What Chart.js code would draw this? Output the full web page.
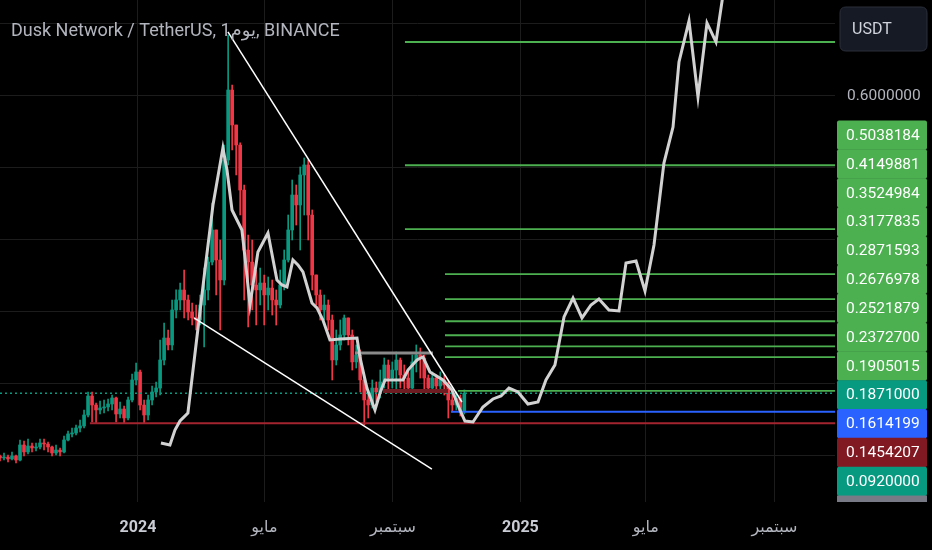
<!DOCTYPE html>
<html><head><meta charset="utf-8">
<script src="https://cdn.jsdelivr.net/npm/chart.js@4.4.0/dist/chart.umd.min.js"></script>
<style>html,body{margin:0;padding:0;background:#000;overflow:hidden}canvas{display:block}</style>
</head><body>
<canvas id="c" width="932" height="550"></canvas>
<script>
// ---------- DATA ----------
const titleText = 'Dusk Network / TetherUS, 1يوم, BINANCE';
// x axis: days since 2024-01-01
const tickDays   = [0, 121, 244, 366, 486, 609];
const tickLabels = ['2024', 'مايو', 'سبتمبر', '2025', 'مايو', 'سبتمبر'];
const tickIsYear = [true, false, false, true, false, false];
const yGridValues = [0.1, 0.2, 0.3, 0.4, 0.5, 0.6, 0.7];
const yLabelValues = [0.6];

// candles (about every 4 days, Aug 2023 -> Nov 2024)
const candleStartDay = -132, candleStepDays = 3.83;
const firstOpen = 0.1;
const closes = [0.0972,0.0986,0.0958,0.1,0.0944,0.1153,0.1056,0.1139,0.1111,0.1125,
0.1181,0.1167,0.1125,0.1042,0.1083,0.1056,0.1222,0.1306,0.1319,0.1389,
0.1417,0.1569,0.1833,0.1708,0.1639,0.1667,0.1681,0.1722,0.1806,0.1583,
0.1653,0.1528,0.1778,0.2056,0.2167,0.1708,0.1569,0.1778,0.1889,0.1944,
0.2333,0.2639,0.2542,0.3028,0.3167,0.3306,0.3167,0.3,0.2917,0.2889,
0.3097,0.3306,0.3694,0.4139,0.3722,0.3444,0.5111,0.6083,0.5597,0.5319,
0.4694,0.3861,0.3694,0.3375,0.3306,0.3403,0.3236,0.3333,0.3167,0.3097,
0.3375,0.3722,0.4139,0.4625,0.4486,0.4903,0.5042,0.4347,0.3514,0.3236,
0.3028,0.3097,0.2889,0.2333,0.2542,0.2681,0.2917,0.2681,0.2306,0.2403,
0.2056,0.1778,0.1708,0.1944,0.1889,0.2028,0.2264,0.2083,0.2194,0.2333,
0.2125,0.2083,0.1944,0.2306,0.2403,0.2361,0.2083,0.1944,0.2083,0.1972,
0.2056,0.1986,0.1778,0.1708,0.1806,0.1611,0.1871];
const highs = [0.1014,0.1042,0.1014,0.1056,0.1014,0.1222,0.1208,0.1236,0.1181,0.1181,
0.1236,0.1236,0.1194,0.1139,0.1153,0.1111,0.1278,0.1347,0.1389,0.1431,
0.15,0.1639,0.1889,0.1889,0.1736,0.1764,0.1778,0.1792,0.1847,0.1819,
0.175,0.1694,0.1819,0.2139,0.2292,0.2194,0.1778,0.1847,0.1972,0.2028,
0.2611,0.2847,0.275,0.3167,0.3306,0.3403,0.3583,0.3236,0.3125,0.3097,
0.3236,0.3611,0.3764,0.4514,0.4139,0.4,0.5319,0.6847,0.6153,0.5597,
0.535,0.4764,0.4069,0.4,0.3583,0.3611,0.3514,0.3486,0.3444,0.3306,
0.3583,0.3861,0.4347,0.4833,0.4764,0.5014,0.5139,0.5111,0.4417,0.3514,
0.3306,0.3236,0.3167,0.2958,0.275,0.2889,0.2958,0.2917,0.275,0.2542,
0.2472,0.2083,0.1917,0.2056,0.2028,0.2194,0.2361,0.2333,0.2306,0.2444,
0.2361,0.2264,0.2194,0.2403,0.2542,0.25,0.2403,0.2125,0.2167,0.2125,
0.2167,0.2125,0.2028,0.1875,0.1889,0.1847,0.1917];
const lows = [0.0931,0.0944,0.0917,0.0944,0.0903,0.0931,0.1,0.1028,0.1056,0.1069,
0.1097,0.1083,0.1056,0.1,0.1014,0.1,0.1042,0.1208,0.1264,0.1292,
0.1333,0.1389,0.1542,0.1472,0.1458,0.1583,0.1597,0.1625,0.1639,0.1472,
0.1528,0.1458,0.15,0.175,0.1986,0.1639,0.1458,0.15,0.1708,0.1819,
0.1847,0.2264,0.2472,0.2472,0.2917,0.3028,0.2917,0.2889,0.2819,0.275,
0.2819,0.2514,0.3167,0.3653,0.3236,0.275,0.3375,0.5042,0.525,0.4903,
0.4347,0.3167,0.2792,0.3028,0.2819,0.3097,0.2819,0.3028,0.2958,0.2819,
0.3056,0.3306,0.3694,0.4,0.4208,0.3861,0.4347,0.4,0.3306,0.3097,
0.2889,0.2889,0.275,0.2056,0.2264,0.2472,0.2611,0.2542,0.2194,0.2222,
0.1889,0.1431,0.1528,0.1667,0.175,0.1806,0.1944,0.1917,0.1944,0.1917,
0.1944,0.1917,0.1875,0.1917,0.2167,0.2083,0.1917,0.1889,0.1889,0.1889,
0.1917,0.1847,0.1528,0.1611,0.1639,0.1556,0.1583];

// projection path (gray)
const pathDays = [22.0,30.6,35.4,40.2,47.8,64.1,71.8,81.3,85.2,90.0,99.5,102.4,107.2,114.8,124.4,133.0,137.8,142.6,148.3,153.1,157.9,166.5,171.3,177.0,183.7,193.3,209.6,212.4,219.1,226.8,231.6,236.4,253.6,258.4,267.0,272.7,279.4,291.9,300.5,308.1,312.9,320.6,330.1,339.7,347.4,355.0,363.6,373.2,382.8,390.4,399.0,407.7,416.3,424.9,433.5,441.1,450.7,460.3,467.0,476.6,485.2,493.8,503.3,512.0,517.7,527.3,535.9,544.5,553.1,560.8];
const pathValues = [0.1181,0.1153,0.1361,0.1486,0.1597,0.3583,0.4486,0.5278,0.4972,0.4417,0.4139,0.3764,0.3097,0.3833,0.4097,0.3444,0.3375,0.3347,0.3722,0.3653,0.3556,0.3125,0.3056,0.2889,0.2611,0.2625,0.2639,0.2375,0.1944,0.1639,0.1875,0.2056,0.2056,0.2194,0.2333,0.2375,0.2167,0.2056,0.1917,0.1639,0.1486,0.1472,0.1681,0.1792,0.1833,0.1944,0.1889,0.1722,0.175,0.2056,0.2264,0.2931,0.3194,0.2917,0.3097,0.3181,0.3028,0.3014,0.3681,0.3708,0.3292,0.3931,0.5069,0.5569,0.6472,0.7042,0.5986,0.7014,0.675,0.75];

// trend lines
const upperTrendDays = [86.1, 310.0], upperTrendValues = [0.6889, 0.175];
const lowerTrendDays = [53.6, 281.3], lowerTrendValues = [0.2917, 0.0819];

// horizontal levels
const levelValues    = [0.675, 0.5038184, 0.4149881, 0.3524984, 0.3177835, 0.2871593, 0.2676978, 0.2521879, 0.23727, 0.1905015];
const levelStartDays = [255.5, 255.5, 255.5, 293.8, 293.8, 293.8, 293.8, 293.8, 293.8, 306.2];
const supportValue = 0.1454207, supportStartDay = -45.9;
const blueValue = 0.1614199, blueStartDay = 299.5;
const lastPrice = 0.1871;
const rangeTopValue = 0.2431, rangeTopDays = [207.7, 282.3];
const rangeBottomValue = 0.1903, rangeBottomDays = [234.4, 296.7];
const xMin = -132, xMax = 667, yMin = 0.0361, yMax = 0.7333;

// price labels on axis
const axisLabels = ['0.5038184','0.4149881','0.3524984','0.3177835','0.2871593','0.2676978','0.2521879','0.2372700','0.1905015','0.1871000','0.1614199','0.1454207','0.0920000'];
const axisLabelColors = ['#4caf50','#4caf50','#4caf50','#4caf50','#4caf50','#4caf50','#4caf50','#4caf50','#4caf50','#089981','#2962ff','#801922','#089981'];

// ---------- BUILD ----------
const UP = '#089981', DOWN = '#f23645';
const opens = [firstOpen].concat(closes.slice(0, -1));
const candleDays = closes.map((_, i) => candleStartDay + i * candleStepDays);
const candleColors = closes.map((c, i) => c >= opens[i] ? UP : DOWN);
const wickData = candleDays.map((d, i) => ({x: d, y: [lows[i], highs[i]]}));
const bodyData = candleDays.map((d, i) => ({x: d, y: [opens[i], closes[i]]}));

function seg(days, values, color, width, extra) {
  return Object.assign({
    type: 'line', data: days.map((d, i) => ({x: d, y: values[i]})),
    borderColor: color, borderWidth: width, pointRadius: 0, tension: 0, fill: false, order: 1
  }, extra || {});
}

const datasets = [];
datasets.push({type: 'bar', data: wickData, backgroundColor: candleColors, barThickness: 1, grouped: false, order: 20, borderWidth: 0});
datasets.push({type: 'bar', data: bodyData, backgroundColor: candleColors, barThickness: 3, grouped: false, order: 19, borderWidth: 0, minBarLength: 1});
datasets.push(seg([xMin, xMax], [lastPrice, lastPrice], UP, 1.5, {borderDash: [2, 3], order: 5}));
datasets.push(seg([supportStartDay, xMax], [supportValue, supportValue], '#a3232e', 2, {order: 6}));
datasets.push(seg([blueStartDay, xMax], [blueValue, blueValue], '#2962ff', 2, {order: 6}));
levelValues.forEach((v, i) => datasets.push(seg([levelStartDays[i], xMax], [v, v], '#4caf50', 1.8, {order: 6})));
datasets.push(seg(rangeTopDays, [rangeTopValue, rangeTopValue], '#8a8a8a', 3, {order: 4}));
datasets.push(seg(rangeBottomDays, [rangeBottomValue, rangeBottomValue], '#6e1b22', 4, {order: 4}));
datasets.push(seg(pathDays, pathValues, '#d2d2d2', 3, {order: 2}));
datasets.push(seg(upperTrendDays, upperTrendValues, '#ffffff', 1.5, {order: 1}));
datasets.push(seg(lowerTrendDays, lowerTrendValues, '#ffffff', 1.5, {order: 1}));

const FONT = 'Roboto, "DejaVu Sans", sans-serif';

function roundRect(ctx, x, y, w, h, r) {
  ctx.beginPath();
  ctx.moveTo(x + r, y); ctx.lineTo(x + w - r, y); ctx.quadraticCurveTo(x + w, y, x + w, y + r);
  ctx.lineTo(x + w, y + h - r); ctx.quadraticCurveTo(x + w, y + h, x + w - r, y + h);
  ctx.lineTo(x + r, y + h); ctx.quadraticCurveTo(x, y + h, x, y + h - r);
  ctx.lineTo(x, y + r); ctx.quadraticCurveTo(x, y, x + r, y); ctx.closePath();
}

const overlay = {
  id: 'overlay',
  beforeDraw(chart) {
    const ctx = chart.ctx;
    ctx.save(); ctx.fillStyle = '#000'; ctx.fillRect(0, 0, chart.width, chart.height); ctx.restore();
  },
  afterDraw(chart) {
    const ctx = chart.ctx;
    const area = chart.chartArea;
    const ys = chart.scales.y;
    ctx.save();
    ctx.textBaseline = 'middle';
    ctx.textAlign = 'left';
    // y tick label(s) visible between the markers
    ctx.font = '15.5px ' + FONT;
    ctx.fillStyle = '#b2b5be';
    yLabelValues.forEach(v => ctx.fillText(v.toFixed(7), area.right + 12, ys.getPixelForValue(v)));
    // title
    ctx.font = '18px ' + FONT;
    ctx.fillStyle = '#b2b5be';
    ctx.fillText(titleText, 11, 31);
    // USDT box
    const ax = area.right;
    roundRect(ctx, ax + 5, 7, 87, 44, 6);
    ctx.fillStyle = '#161a25'; ctx.fill();
    ctx.strokeStyle = '#2a2e39'; ctx.lineWidth = 1; ctx.stroke();
    ctx.fillStyle = '#d1d4dc'; ctx.font = '16px ' + FONT;
    ctx.fillText('USDT', ax + 17, 30);
    // stacked price labels
    const top0 = 120.5, h = 28.85, bx = ax + 2, bw = 90;
    axisLabels.forEach((t, i) => {
      const y = top0 + i * h;
      ctx.fillStyle = axisLabelColors[i];
      roundRect(ctx, bx, y, bw, h + 0.5, 2);
      ctx.fill();
      ctx.fillStyle = '#ffffff';
      ctx.font = '15.5px ' + FONT;
      ctx.fillText(t, bx + 9, y + h / 2 + 1);
    });
    const yEnd = top0 + axisLabels.length * h;
    ctx.fillStyle = '#787b86';
    ctx.fillRect(bx, yEnd, bw, area.bottom - yEnd);
    ctx.restore();
  }
};

new Chart(document.getElementById('c'), {
  type: 'bar',
  data: {datasets},
  plugins: [overlay],
  options: {
    responsive: false, animation: false, devicePixelRatio: 1,
    layout: {padding: 0},
    plugins: {legend: {display: false}, tooltip: {enabled: false}, title: {display: false}},
    scales: {
      x: {
        type: 'linear', min: xMin, max: xMax, offset: false,
        afterBuildTicks: s => { s.ticks = tickDays.map(v => ({value: v})); },
        afterFit: s => { s.height = 48; },
        grid: {color: '#1c1c1c', drawTicks: false, offset: false},
        border: {display: false},
        ticks: {
          autoSkip: false, maxRotation: 0, padding: 16,
          color: ctx => tickIsYear[ctx.index] ? '#c9ccd4' : '#b2b5be',
          font: ctx => ({family: FONT, size: 16, weight: tickIsYear[ctx.index] ? 'bold' : 'normal'}),
          callback: (v, i) => tickLabels[i]
        }
      },
      y: {
        position: 'right', min: yMin, max: yMax,
        afterBuildTicks: s => { s.ticks = yGridValues.map(v => ({value: v})); },
        afterFit: s => { s.width = 97; },
        grid: {color: '#1c1c1c', drawTicks: false},
        border: {display: false},
        ticks: {display: false}
      }
    }
  }
});
</script>
</body></html>
